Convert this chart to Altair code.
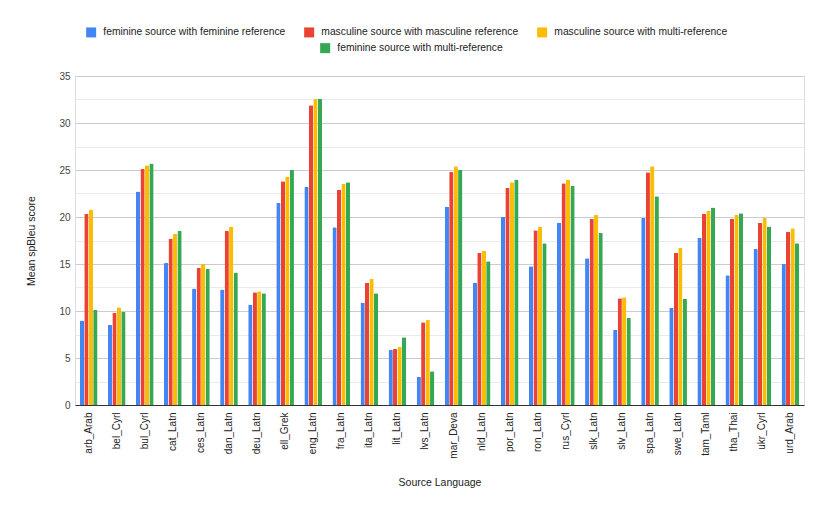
import altair as alt
import pandas as pd

languages = ["arb_Arab", "bel_Cyrl", "bul_Cyrl", "cat_Latn", "ces_Latn", "dan_Latn", "deu_Latn",
             "ell_Grek", "eng_Latn", "fra_Latn", "ita_Latn", "lit_Latn", "lvs_Latn", "mar_Deva",
             "nld_Latn", "por_Latn", "ron_Latn", "rus_Cyrl", "slk_Latn", "slv_Latn", "spa_Latn",
             "swe_Latn", "tam_Taml", "tha_Thai", "ukr_Cyrl", "urd_Arab"]

series_names = ["feminine source with feminine reference",
                "masculine source with masculine reference",
                "masculine source with multi-reference",
                "feminine source with multi-reference"]

fem_fem = [9.0, 8.5, 22.7, 15.1, 12.4, 12.3, 10.7, 21.5, 23.2, 18.9, 10.9, 5.85, 3.0, 21.1,
           13.0, 20.0, 14.75, 19.4, 15.6, 8.0, 19.9, 10.35, 17.8, 13.8, 16.6, 15.0]
masc_masc = [20.35, 9.8, 25.1, 17.7, 14.6, 18.5, 12.0, 23.8, 31.9, 22.9, 13.0, 5.95, 8.8, 24.8,
             16.2, 23.1, 18.6, 23.6, 19.8, 11.35, 24.75, 16.2, 20.35, 19.8, 19.4, 18.4]
masc_multi = [20.8, 10.4, 25.5, 18.2, 15.0, 19.0, 12.1, 24.3, 32.55, 23.5, 13.4, 6.2, 9.1, 25.4,
              16.4, 23.7, 19.0, 24.0, 20.2, 11.45, 25.4, 16.7, 20.7, 20.25, 19.9, 18.8]
fem_multi = [10.1, 9.9, 25.7, 18.5, 14.5, 14.1, 11.9, 25.0, 32.55, 23.7, 11.9, 7.2, 3.6, 25.0,
             15.3, 24.0, 17.2, 23.3, 18.3, 9.25, 22.2, 11.3, 21.0, 20.4, 19.0, 17.2]

colors = ["#4285F4", "#EA4335", "#FBBC04", "#34A853"]

rows = []
for s_idx, (name, vals) in enumerate(zip(series_names, [fem_fem, masc_masc, masc_multi, fem_multi])):
    for lang, v in zip(languages, vals):
        rows.append({"lang": lang, "series": name, "order": s_idx, "score": v})
df = pd.DataFrame(rows)

font = "Liberation Sans"

legend_style = dict(title=None, orient="none", direction="horizontal",
                    symbolType="square", symbolSize=100, symbolStrokeWidth=0,
                    labelFontSize=10.3, labelColor="#222", labelFont=font,
                    columnPadding=18, labelLimit=400, padding=0, labelOffset=7)

base = alt.Chart(df).mark_bar(cornerRadiusTopLeft=1, cornerRadiusTopRight=1).encode(
    x=alt.X("lang:N", sort=languages, title="Source Language",
            scale=alt.Scale(paddingInner=0.37, paddingOuter=0.17),
            axis=alt.Axis(labelAngle=-90, labelFontSize=10, labelColor="#222",
                          titleFontSize=10.5, titleFontWeight="normal", titleColor="#222",
                          titlePadding=19, ticks=False, domainColor="#333", labelPadding=7,
                          labelFont=font, titleFont=font)),
    xOffset=alt.XOffset("series:N", sort=series_names,
                        scale=alt.Scale(domain=series_names, paddingInner=0.04)),
    y=alt.Y("score:Q", title="Mean spBleu score",
            scale=alt.Scale(domain=[0, 35], nice=False),
            axis=alt.Axis(values=[i * 2.5 for i in range(15)],
                          labelExpr="datum.value % 5 === 0 ? datum.label : ''",
                          gridColor=alt.condition("datum.value % 5 === 0", alt.value("#cccccc"), alt.value("#ebebeb")),
                          domain=False, ticks=False, labelFontSize=10, labelColor="#444",
                          titleFontSize=10.5, titleFontWeight="normal", titleColor="#222",
                          labelPadding=5, titlePadding=22, labelFont=font, titleFont=font)),
)

first_three = base.transform_filter("datum.order < 3").encode(
    color=alt.Color("series:N", sort=series_names[:3],
                    scale=alt.Scale(domain=series_names[:3], range=colors[:3]),
                    legend=alt.Legend(legendX=11, legendY=-49, **legend_style)))

last_one = base.transform_filter("datum.order == 3").encode(
    fill=alt.Fill("series:N",
                  scale=alt.Scale(domain=series_names[3:], range=colors[3:]),
                  legend=alt.Legend(legendX=245, legendY=-33, **legend_style)))

chart = alt.layer(first_three, last_one).properties(
    width=729, height=329,
    padding={"top": 19, "left": 18, "right": 5, "bottom": 5},
).configure_view(stroke=None).configure(background="white")

chart.save("out.html", embed_options={"renderer": "svg", "actions": False})
